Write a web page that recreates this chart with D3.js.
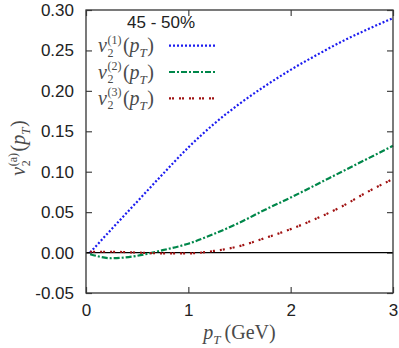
<!DOCTYPE html>
<html>
<head>
<meta charset="utf-8">
<script src="https://cdn.jsdelivr.net/npm/d3@7"></script>
<style>
  body { margin: 0; background: #fff; }
</style>
</head>
<body>
<div id="chart"></div>
<script>
const w = 399;
const h = 348;
const margin = {top: 10, right: 6, bottom: 55, left: 86};
const sans = '"Liberation Sans", Arial, Helvetica, sans-serif';
const serif = '"Liberation Serif", "Times New Roman", serif';
const textGray = '#4a4a4a';

// values
const pT = [0.04, 0.25, 0.5, 0.75, 1.0, 1.25, 1.5, 1.75, 2.0, 2.25, 2.5, 2.75, 3.0];
const v2a1 = [0.000, 0.029, 0.063, 0.097, 0.130, 0.159, 0.184, 0.206, 0.226, 0.244, 0.261, 0.276, 0.290];
const v2a2 = [-0.002, -0.007, -0.004, 0.003, 0.011, 0.023, 0.037, 0.053, 0.068, 0.084, 0.100, 0.116, 0.132];
const v2a3 = [0.001, 0.001, 0.000, -0.001, -0.001, 0.002, 0.008, 0.018, 0.029, 0.042, 0.057, 0.075, 0.091];
const xTicks = [0, 1, 2, 3];
const yTicks = [-0.05, 0.00, 0.05, 0.10, 0.15, 0.20, 0.25, 0.30];
const centrality = '45 - 50%';
const seriesNames = ['(1)', '(2)', '(3)'];

const series = [
  {name: seriesNames[0], values: v2a1, color: '#1c1cf0', dash: '2,2'},
  {name: seriesNames[1], values: v2a2, color: '#00874a', dash: '6,2,2,2'},
  {name: seriesNames[2], values: v2a3, color: '#a01212', dash: '2,1,2,5'}
];

const svg = d3.select('#chart').append('svg')
  .attr('width', w)
  .attr('height', h);

const x = d3.scaleLinear().domain([0, 3]).range([margin.left, w - margin.right]);
const y = d3.scaleLinear().domain([-0.05, 0.30]).range([h - margin.bottom, margin.top]);

// draws a small TeX-like label from pieces, returns its width
function mathText(g, x0, y0, pieces) {
  let cx = x0, lastX = x0, lastW = 0;
  pieces.forEach(p => {
    const px = p.stack ? lastX : cx + (p.pre || 0);
    const t = g.append('text')
      .attr('x', px)
      .attr('y', y0 + (p.dy || 0))
      .attr('font-family', serif)
      .attr('font-size', p.size || 20)
      .attr('font-style', p.italic ? 'italic' : 'normal')
      .attr('fill', textGray)
      .text(p.t);
    const tw = t.node().getComputedTextLength();
    if (p.stack) {
      cx = Math.max(lastX + lastW, px + tw);
    } else {
      lastX = px; lastW = tw; cx = px + tw;
    }
  });
  return cx - x0;
}

function v2Pieces(sup) {
  return [
    {t: 'v', italic: true},
    {t: '2', size: 12, dy: 4.5, pre: 0.5},
    {t: sup, size: 12, dy: -8.5, stack: true},
    {t: '(', pre: 1.5},
    {t: 'p', italic: true},
    {t: 'T', size: 13, dy: 5, italic: true},
    {t: ')', pre: 0.5}
  ];
}

// axes
const left = svg.append('g')
  .attr('transform', 'translate(' + margin.left + ',0)')
  .call(d3.axisLeft(y).tickValues(yTicks).tickSize(-6).tickPadding(12).tickFormat(d => d.toFixed(2)));
const bottom = svg.append('g')
  .attr('transform', 'translate(0,' + (h - margin.bottom) + ')')
  .call(d3.axisBottom(x).tickValues(xTicks).tickSize(-6).tickFormat(d3.format('d')));
svg.append('g')
  .attr('transform', 'translate(' + (w - margin.right) + ',0)')
  .call(d3.axisRight(y).tickValues(yTicks).tickSize(-6).tickFormat(''));
svg.append('g')
  .attr('transform', 'translate(0,' + margin.top + ')')
  .call(d3.axisTop(x).tickValues(xTicks).tickSize(-6).tickFormat(''));

svg.selectAll('.domain').remove();
svg.selectAll('.tick line').attr('stroke', '#444').attr('stroke-width', 1.2);
svg.selectAll('.tick text')
  .attr('font-family', sans)
  .attr('font-size', 17)
  .attr('fill', '#222');
bottom.selectAll('.tick text').attr('y', 23).attr('dy', 0);

// zero line
svg.append('line')
  .attr('x1', x(0)).attr('x2', x(3))
  .attr('y1', y(0)).attr('y2', y(0))
  .attr('stroke', '#000')
  .attr('stroke-width', 1.3);

// curves
const line = d3.line()
  .x((d, i) => x(pT[i]))
  .y(d => y(d))
  .curve(d3.curveMonotoneX);

svg.selectAll('path.curve')
  .data(series)
  .enter()
  .append('path')
  .attr('class', 'curve')
  .attr('d', d => line(d.values))
  .attr('fill', 'none')
  .attr('stroke', d => d.color)
  .attr('stroke-width', 2.2)
  .attr('stroke-dasharray', d => d.dash);

// frame
svg.append('rect')
  .attr('x', x(0)).attr('y', y(0.30))
  .attr('width', x(3) - x(0))
  .attr('height', y(-0.05) - y(0.30))
  .attr('fill', 'none')
  .attr('stroke', '#333')
  .attr('stroke-width', 1.3);

// legend
svg.append('text')
  .attr('x', 127)
  .attr('y', 28)
  .attr('font-family', sans)
  .attr('font-size', 17)
  .attr('fill', '#222')
  .text(centrality);

const legend = svg.append('g');
series.forEach((s, i) => {
  const ly = 45.7 + i * 26.3;
  mathText(legend, 98, ly + 6.5, v2Pieces(s.name));
  legend.append('line')
    .attr('x1', 169).attr('x2', 216)
    .attr('y1', ly).attr('y2', ly)
    .attr('stroke', s.color)
    .attr('stroke-width', 2.2)
    .attr('stroke-dasharray', s.dash);
});

// x axis title
const xt = svg.append('g');
const xw = mathText(xt, 0, 0, [
  {t: 'p', italic: true},
  {t: 'T', size: 13, dy: 5, italic: true},
  {t: '(GeV)', pre: 4}
]);
xt.attr('transform', 'translate(' + ((x(0) + x(3)) / 2 - xw / 2) + ',339)');

// y axis title
const yt = svg.append('g');
const yw = mathText(yt, 0, 0, v2Pieces('(a)'));
yt.attr('transform', 'translate(25,' + (148 + yw / 2) + ') rotate(-90)');
</script>
</body>
</html>
